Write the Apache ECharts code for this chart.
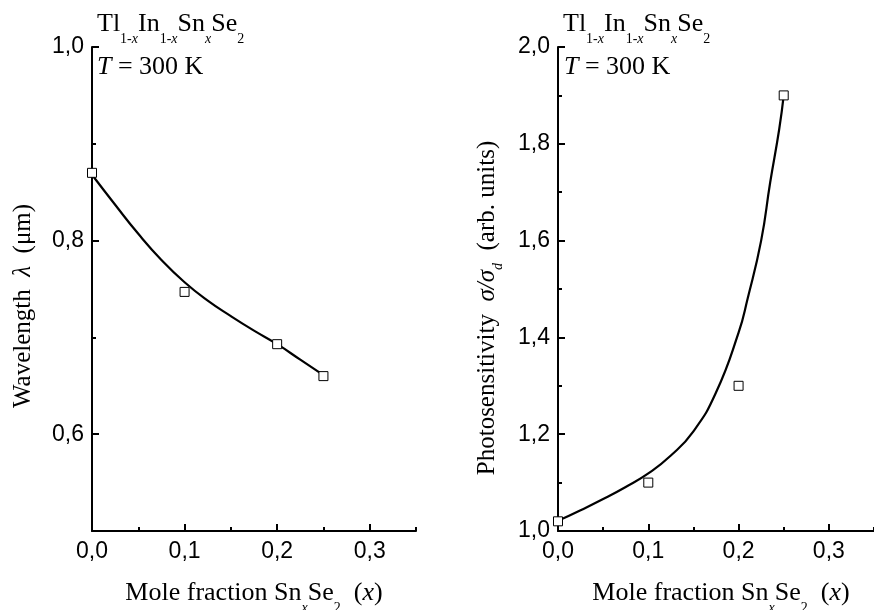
<!DOCTYPE html>
<html>
<head>
<meta charset="utf-8">
<script src="https://cdn.jsdelivr.net/npm/echarts@6/dist/echarts.min.js"></script>
<style>
  html, body { margin: 0; padding: 0; background: #fff; }
  #chart { width: 874px; height: 610px; }
</style>
</head>
<body>
<div id="chart"></div>
<script>
// measured points (open squares)
var molePoints = [0, 0.1, 0.2, 0.25];
var wavelength = [0.870, 0.747, 0.693, 0.660];
var photoSens = [1.02, 1.10, 1.30, 1.90];

// fitted curves
var waveFitX = [0, 0.025, 0.05, 0.075, 0.1, 0.125, 0.15, 0.175, 0.2, 0.225, 0.25];
var waveFitY = [0.868, 0.837, 0.807, 0.780, 0.757, 0.738, 0.722, 0.707, 0.693, 0.677, 0.661];
var photoFitX = [0, 0.025, 0.05, 0.075, 0.1, 0.125, 0.15, 0.175, 0.2, 0.21, 0.225, 0.235, 0.245, 0.25];
var photoFitY = [1.021, 1.043, 1.066, 1.091, 1.119, 1.156, 1.206, 1.286, 1.410, 1.480, 1.600, 1.720, 1.830, 1.900];

// ticks
var xMajor = [0, 0.1, 0.2, 0.3];
var xMinor = [0.05, 0.15, 0.25, 0.35];
var waveMajor = [0.6, 0.8, 1.0];
var waveMinor = [0.7, 0.9];
var photoMajor = [1.0, 1.2, 1.4, 1.6, 1.8, 2.0];
var photoMinor = [1.1, 1.3, 1.5, 1.7, 1.9];

var SANS = '"Liberation Sans", Arial, sans-serif';
var SERIF = '"Liberation Serif", "Times New Roman", serif';

function pairs(xs, ys) {
  return xs.map(function (x, i) { return [x, ys[i]]; });
}
function comma(v) {
  return v.toFixed(1).replace('.', ',');
}

function makeRich(size, subDrop) {
  return {
    n: { fontFamily: SERIF, fontSize: size, lineHeight: 28, verticalAlign: 'top', color: '#000' },
    i: { fontFamily: SERIF, fontSize: size, lineHeight: 28, verticalAlign: 'top', fontStyle: 'italic', color: '#000' },
    s: { fontFamily: SERIF, fontSize: 14, lineHeight: 14, padding: [subDrop, 0, 0, 0], verticalAlign: 'top', color: '#000' },
    si: { fontFamily: SERIF, fontSize: 14, lineHeight: 14, padding: [subDrop, 0, 0, 0], verticalAlign: 'top', fontStyle: 'italic', color: '#000' }
  };
}
var richTitle = makeRich(26, 21);
var richXName = makeRich(26, 21);
var richYName = makeRich(25, 16);

var formulaText = '{n|Tl}{s|1-}{si|x}{n|In}{s|1-}{si|x}{n|Sn}{si|x}{n|Se}{s|2}';
var tempText = '{i|T}{n| = 300 K}';
var xNameText = '{n|Mole fraction Sn}{si|x}{n|Se}{s|2}{n|  (}{i|x}{n|)}';

var GRIDS = [
  { left: 92, top: 47, width: 324, height: 484 },
  { left: 558, top: 47, width: 325, height: 484 }
];

function xAxisFor(grid, ticks, len, main) {
  return {
    gridIndex: grid, type: 'value', min: 0, max: 0.35,
    axisLine: { show: main, lineStyle: { color: '#000', width: 2 } },
    axisTick: { inside: true, length: len, customValues: ticks, lineStyle: { color: '#000', width: 2 } },
    axisLabel: { show: main, customValues: ticks, formatter: comma, color: '#000', fontFamily: SANS, fontSize: 23, margin: 9 },
    splitLine: { show: false }
  };
}
function yAxisFor(grid, min, max, ticks, len, main) {
  return {
    gridIndex: grid, type: 'value', min: min, max: max,
    axisLine: { show: main, lineStyle: { color: '#000', width: 2 } },
    axisTick: { inside: true, length: len, customValues: ticks, lineStyle: { color: '#000', width: 2 } },
    axisLabel: { show: main, customValues: ticks, formatter: comma, color: '#000', fontFamily: SANS, fontSize: 23, margin: 8 },
    splitLine: { show: false }
  };
}

var chart = echarts.init(document.getElementById('chart'), null, { renderer: 'canvas' });
chart.setOption({
  backgroundColor: '#fff',
  animation: false,
  // grids 2 and 3 sit on top of 0 and 1 and only carry the minor ticks
  grid: [GRIDS[0], GRIDS[1], GRIDS[0], GRIDS[1]],
  xAxis: [
    xAxisFor(0, xMajor, 7, true),
    xAxisFor(1, xMajor, 7, true),
    xAxisFor(2, xMinor, 4, false),
    xAxisFor(3, xMinor, 4, false)
  ],
  yAxis: [
    yAxisFor(0, 0.5, 1.0, waveMajor, 7, true),
    yAxisFor(1, 1.0, 2.0, photoMajor, 7, true),
    yAxisFor(2, 0.5, 1.0, waveMinor, 4, false),
    yAxisFor(3, 1.0, 2.0, photoMinor, 4, false)
  ],
  series: [
    {
      type: 'line', xAxisIndex: 0, yAxisIndex: 0, data: pairs(waveFitX, waveFitY),
      smooth: 0.5, showSymbol: false, lineStyle: { color: '#000', width: 2.2 }, z: 2
    },
    {
      type: 'scatter', xAxisIndex: 0, yAxisIndex: 0, data: pairs(molePoints, wavelength),
      symbol: 'rect', symbolSize: 9, itemStyle: { color: '#fff', borderColor: '#000', borderWidth: 1, opacity: 1 }, z: 3
    },
    {
      type: 'line', xAxisIndex: 1, yAxisIndex: 1, data: pairs(photoFitX, photoFitY),
      smooth: 0.5, showSymbol: false, lineStyle: { color: '#000', width: 2.2 }, z: 2
    },
    {
      type: 'scatter', xAxisIndex: 1, yAxisIndex: 1, data: pairs(molePoints, photoSens),
      symbol: 'rect', symbolSize: 9, itemStyle: { color: '#fff', borderColor: '#000', borderWidth: 1, opacity: 1 }, z: 3
    }
  ],
  graphic: [
    { type: 'text', x: 97, y: 11, style: { text: formulaText, rich: richTitle, align: 'left', verticalAlign: 'top' } },
    { type: 'text', x: 97, y: 54, style: { text: tempText, rich: richTitle, align: 'left', verticalAlign: 'top' } },
    { type: 'text', x: 563, y: 11, style: { text: formulaText, rich: richTitle, align: 'left', verticalAlign: 'top' } },
    { type: 'text', x: 564, y: 54, style: { text: tempText, rich: richTitle, align: 'left', verticalAlign: 'top' } },
    { type: 'text', x: 254, y: 580, style: { text: xNameText, rich: richXName, align: 'center', verticalAlign: 'top' } },
    { type: 'text', x: 721, y: 580, style: { text: xNameText, rich: richXName, align: 'center', verticalAlign: 'top' } },
    {
      type: 'text', x: 11, y: 306, rotation: Math.PI / 2,
      style: { text: '{n|Wavelength  }{i|λ}{n|  (μm)}', rich: richYName, align: 'center', verticalAlign: 'top' }
    },
    {
      type: 'text', x: 475, y: 308, rotation: Math.PI / 2,
      style: { text: '{n|Photosensitivity  }{i|σ/σ}{si|d}{n|  (arb. units)}', rich: richYName, align: 'center', verticalAlign: 'top' }
    }
  ]
});
</script>
</body>
</html>
